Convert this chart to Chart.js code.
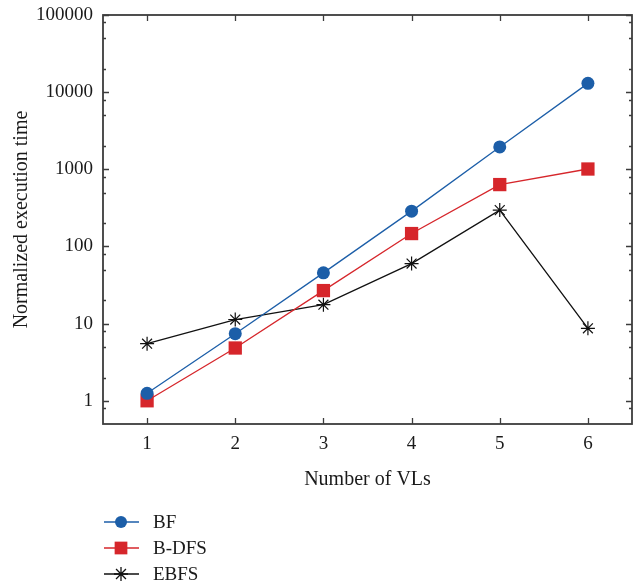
<!DOCTYPE html>
<html>
<head>
<meta charset="utf-8">
<script src="https://cdn.jsdelivr.net/npm/chart.js@4.4.1/dist/chart.umd.min.js"></script>
<style>
  html, body { margin: 0; padding: 0; background: #fff; }
  #wrap { width: 643px; height: 588px; }
</style>
</head>
<body>
<div id="wrap"><canvas id="chart"></canvas></div>
<script>
// values
const vlCounts = [1, 2, 3, 4, 5, 6];
const bfTimes = [1.25, 7.4, 45.5, 287, 1950, 13000];
const bdfsTimes = [1.0, 4.83, 26.8, 147, 634, 1009];
const ebfsTimes = [5.5, 11.3, 17.6, 60, 296, 8.7];
const yTickValues = [1, 10, 100, 1000, 10000, 100000];
const yMinorSteps = [2, 5, 8];

const FONT = "'Liberation Serif', 'DejaVu Serif', serif";
const AXIS_COLOR = '#3c3c3c';

function toPoints(values) {
    return vlCounts.map((v, i) => ({ x: v, y: values[i] }));
}

// box frame with inward ticks on all four sides
const boxAxes = {
    id: 'boxAxes',
    beforeDatasetsDraw(chart) {
        const { ctx, chartArea: a, scales: { x, y } } = chart;
        ctx.save();
        ctx.strokeStyle = AXIS_COLOR;
        ctx.lineWidth = 1.3;
        ctx.beginPath();
        vlCounts.forEach(v => {
            const px = Math.round(x.getPixelForValue(v)) + 0.5;
            ctx.moveTo(px, a.bottom); ctx.lineTo(px, a.bottom - 6);
            ctx.moveTo(px, a.top); ctx.lineTo(px, a.top + 6);
        });
        const decades = [0.1].concat(yTickValues);
        decades.forEach(d => {
            if (d >= y.min && d <= y.max) {
                const py = Math.round(y.getPixelForValue(d)) + 0.5;
                ctx.moveTo(a.left, py); ctx.lineTo(a.left + 6, py);
                ctx.moveTo(a.right, py); ctx.lineTo(a.right - 6, py);
            }
            yMinorSteps.forEach(m => {
                const v = d * m;
                if (v > y.min && v < y.max) {
                    const py = Math.round(y.getPixelForValue(v)) + 0.5;
                    ctx.moveTo(a.left, py); ctx.lineTo(a.left + 3, py);
                    ctx.moveTo(a.right, py); ctx.lineTo(a.right - 3, py);
                }
            });
        });
        ctx.stroke();
        ctx.lineWidth = 1.8;
        ctx.strokeRect(a.left, a.top, a.right - a.left, a.bottom - a.top);
        ctx.restore();
    }
};

// legend stacked one item per row under the axis title
const stackedLegend = {
    id: 'stackedLegend',
    afterDraw(chart) {
        const ctx = chart.ctx;
        ctx.save();
        chart.data.datasets.forEach((ds, i) => {
            const yy = 522 + i * 26;
            ctx.strokeStyle = ds.borderColor;
            ctx.lineWidth = ds.borderWidth;
            ctx.beginPath();
            ctx.moveTo(104, yy);
            ctx.lineTo(139, yy);
            ctx.stroke();
            ctx.fillStyle = ds.pointBackgroundColor;
            ctx.strokeStyle = ds.pointBorderColor;
            Chart.helpers.drawPoint(ctx, {
                pointStyle: ds.pointStyle,
                radius: ds.legendRadius,
                rotation: 0,
                borderWidth: ds.pointBorderWidth
            }, 121, yy);
            ctx.fillStyle = '#1a1a1a';
            ctx.font = '19px ' + FONT;
            ctx.textBaseline = 'middle';
            ctx.textAlign = 'left';
            ctx.fillText(ds.label, 153, yy + 1);
        });
        ctx.restore();
    }
};

const ctx = document.getElementById('chart').getContext('2d');
new Chart(ctx, {
    type: 'line',
    data: {
        datasets: [
            {
                label: 'BF',
                data: toPoints(bfTimes),
                borderColor: '#1c5ea8',
                borderWidth: 1.3,
                pointStyle: 'circle',
                pointRadius: 6.5,
                legendRadius: 6,
                pointBackgroundColor: '#1c5ea8',
                pointBorderColor: '#1c5ea8',
                pointBorderWidth: 0
            },
            {
                label: 'B-DFS',
                data: toPoints(bdfsTimes),
                borderColor: '#d6262b',
                borderWidth: 1.3,
                pointStyle: 'rect',
                pointRadius: 9.4,
                legendRadius: 9,
                pointBackgroundColor: '#d6262b',
                pointBorderColor: '#d6262b',
                pointBorderWidth: 0
            },
            {
                label: 'EBFS',
                data: toPoints(ebfsTimes),
                borderColor: '#111111',
                borderWidth: 1.3,
                pointStyle: 'star',
                pointRadius: 7,
                legendRadius: 7,
                pointBackgroundColor: '#111111',
                pointBorderColor: '#111111',
                pointBorderWidth: 1.2
            }
        ]
    },
    options: {
        responsive: true,
        maintainAspectRatio: false,
        animation: false,
        events: [],
        layout: { padding: { top: 15, right: 11, left: 0, bottom: 94 } },
        scales: {
            x: {
                type: 'linear',
                min: 0.5,
                max: 6.5,
                afterBuildTicks: scale => { scale.ticks = vlCounts.map(v => ({ value: v })); },
                afterFit: scale => {
                    scale.height = 70;
                    scale.paddingLeft = 0;
                    scale.paddingRight = 0;
                },
                grid: { display: false, drawTicks: false },
                border: { display: false },
                ticks: { color: '#1a1a1a', padding: 9, font: { family: FONT, size: 19 } },
                title: {
                    display: true,
                    text: 'Number of VLs',
                    color: '#1a1a1a',
                    padding: { top: 0, bottom: 2 },
                    font: { family: FONT, size: 20 }
                }
            },
            y: {
                type: 'logarithmic',
                min: 0.5,
                max: 100000,
                afterBuildTicks: scale => { scale.ticks = yTickValues.map(v => ({ value: v })); },
                afterFit: scale => {
                    scale.width = 103;
                    scale.paddingTop = 0;
                    scale.paddingBottom = 0;
                },
                grid: { display: false, drawTicks: false },
                border: { display: false },
                ticks: {
                    color: '#1a1a1a',
                    padding: 10,
                    font: { family: FONT, size: 19 },
                    callback: value => String(value)
                },
                title: {
                    display: true,
                    text: 'Normalized execution time',
                    color: '#1a1a1a',
                    padding: { top: 10, bottom: 0 },
                    font: { family: FONT, size: 20 }
                }
            }
        },
        plugins: {
            legend: { display: false },
            tooltip: { enabled: false }
        }
    },
    plugins: [boxAxes, stackedLegend]
});
</script>
</body>
</html>
